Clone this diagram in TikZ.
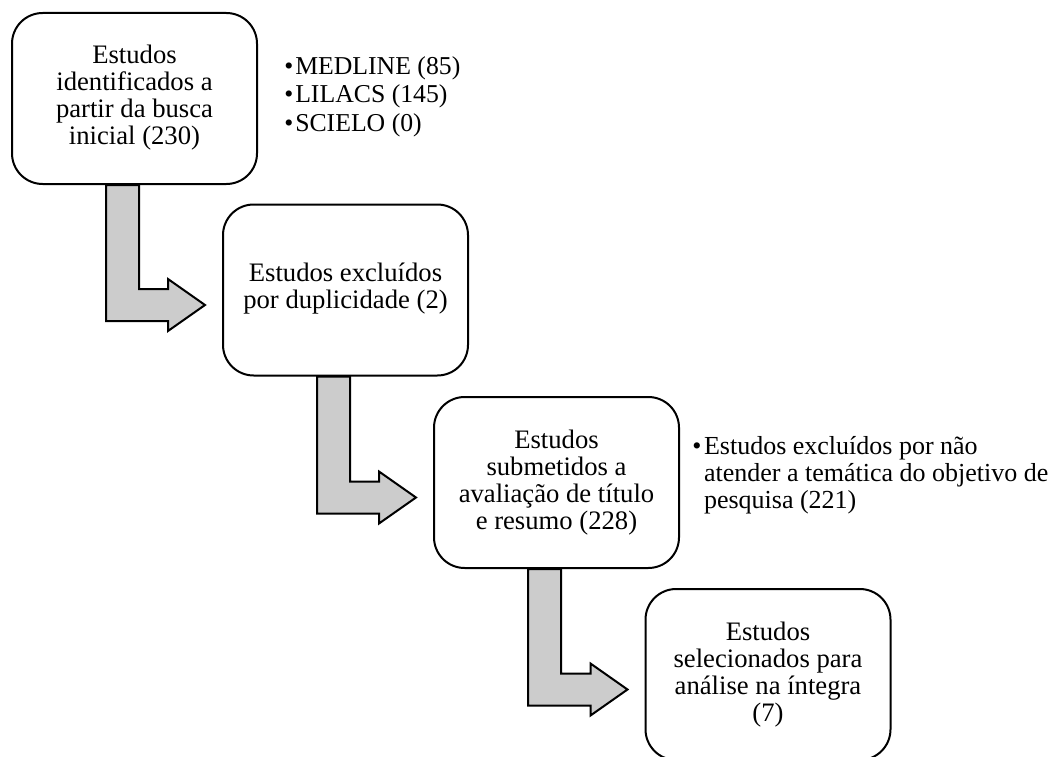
\documentclass[tikz,border=0pt]{standalone}
\usepackage{fontspec}
\setmainfont{Liberation Serif}
\usetikzlibrary{calc}
\tikzset{
  box/.style={draw=black, line width=1.5pt, rounded corners=23pt, fill=white,
    minimum width=183.75pt, minimum height=128.25pt, inner sep=0pt,
    align=center, font=\fontsize{20pt}{20.3pt}\selectfont},
  side/.style={inner sep=0pt, anchor=west},
  barrow/.style={draw=black, line width=1.5pt, fill=black!20, line join=miter}
}
\newcommand{\blockarrow}[2]{%
  \draw[barrow] let \p1=(#1.south west), \p2=(#2.west),
    \n1={\x1+71.25pt}, \n2={\x1+96pt}, \n3={\y2-11.25pt},
    \n4={\x2-12.75pt}, \n5={\x2-40.5pt} in
    (\n1,\y1) -- (\n1,\n3-12pt) -- (\n5,\n3-12pt) -- (\n5,\n3-19.5pt)
    -- (\n4,\n3) -- (\n5,\n3+19.5pt) -- (\n5,\n3+12pt) -- (\n2,\n3+12pt)
    -- (\n2,\y1) -- cycle;}
\newcommand{\lowered}[1]{\raisebox{-3.75pt}{\begin{tabular}{@{}c@{}}#1\end{tabular}}}
\begin{document}
\begin{tikzpicture}[x=0.75pt,y=-0.75pt]
\useasboundingbox (0,0) rectangle (1059,756);
\node[box] (b1) at (134.5,98.5) {\lowered{Estudos\\identificados a\\partir da busca\\inicial (230)}};
\node[box] (b2) at (345.5,290) {\lowered{Estudos excluídos\\por duplicidade (2)}};
\node[box] (b3) at (556.5,482.5) {Estudos\\submetidos a\\avaliação de título\\e resumo (228)};
\node[box] (b4) at (768,674.5) {Estudos\\selecionados para\\análise na íntegra\\(7)};
\node[side, font=\fontsize{19.3pt}{21.5pt}\selectfont] (s1) at (284,97) {\begin{tabular}{@{}l@{\hspace{1.5pt}}l@{}}\textbullet & MEDLINE (85)\\ \textbullet & LILACS (145)\\ \textbullet & SCIELO (0)\end{tabular}};
\node[side, font=\fontsize{19.5pt}{20pt}\selectfont] (s2) at (692,476) {\begin{tabular}{@{}l@{\hspace{2pt}}l@{}}\textbullet & Estudos excluídos por não\\ & atender a temática do objetivo de\\ & pesquisa (221)\end{tabular}};
\blockarrow{b1}{b2}
\blockarrow{b2}{b3}
\blockarrow{b3}{b4}
\end{tikzpicture}
\end{document}
